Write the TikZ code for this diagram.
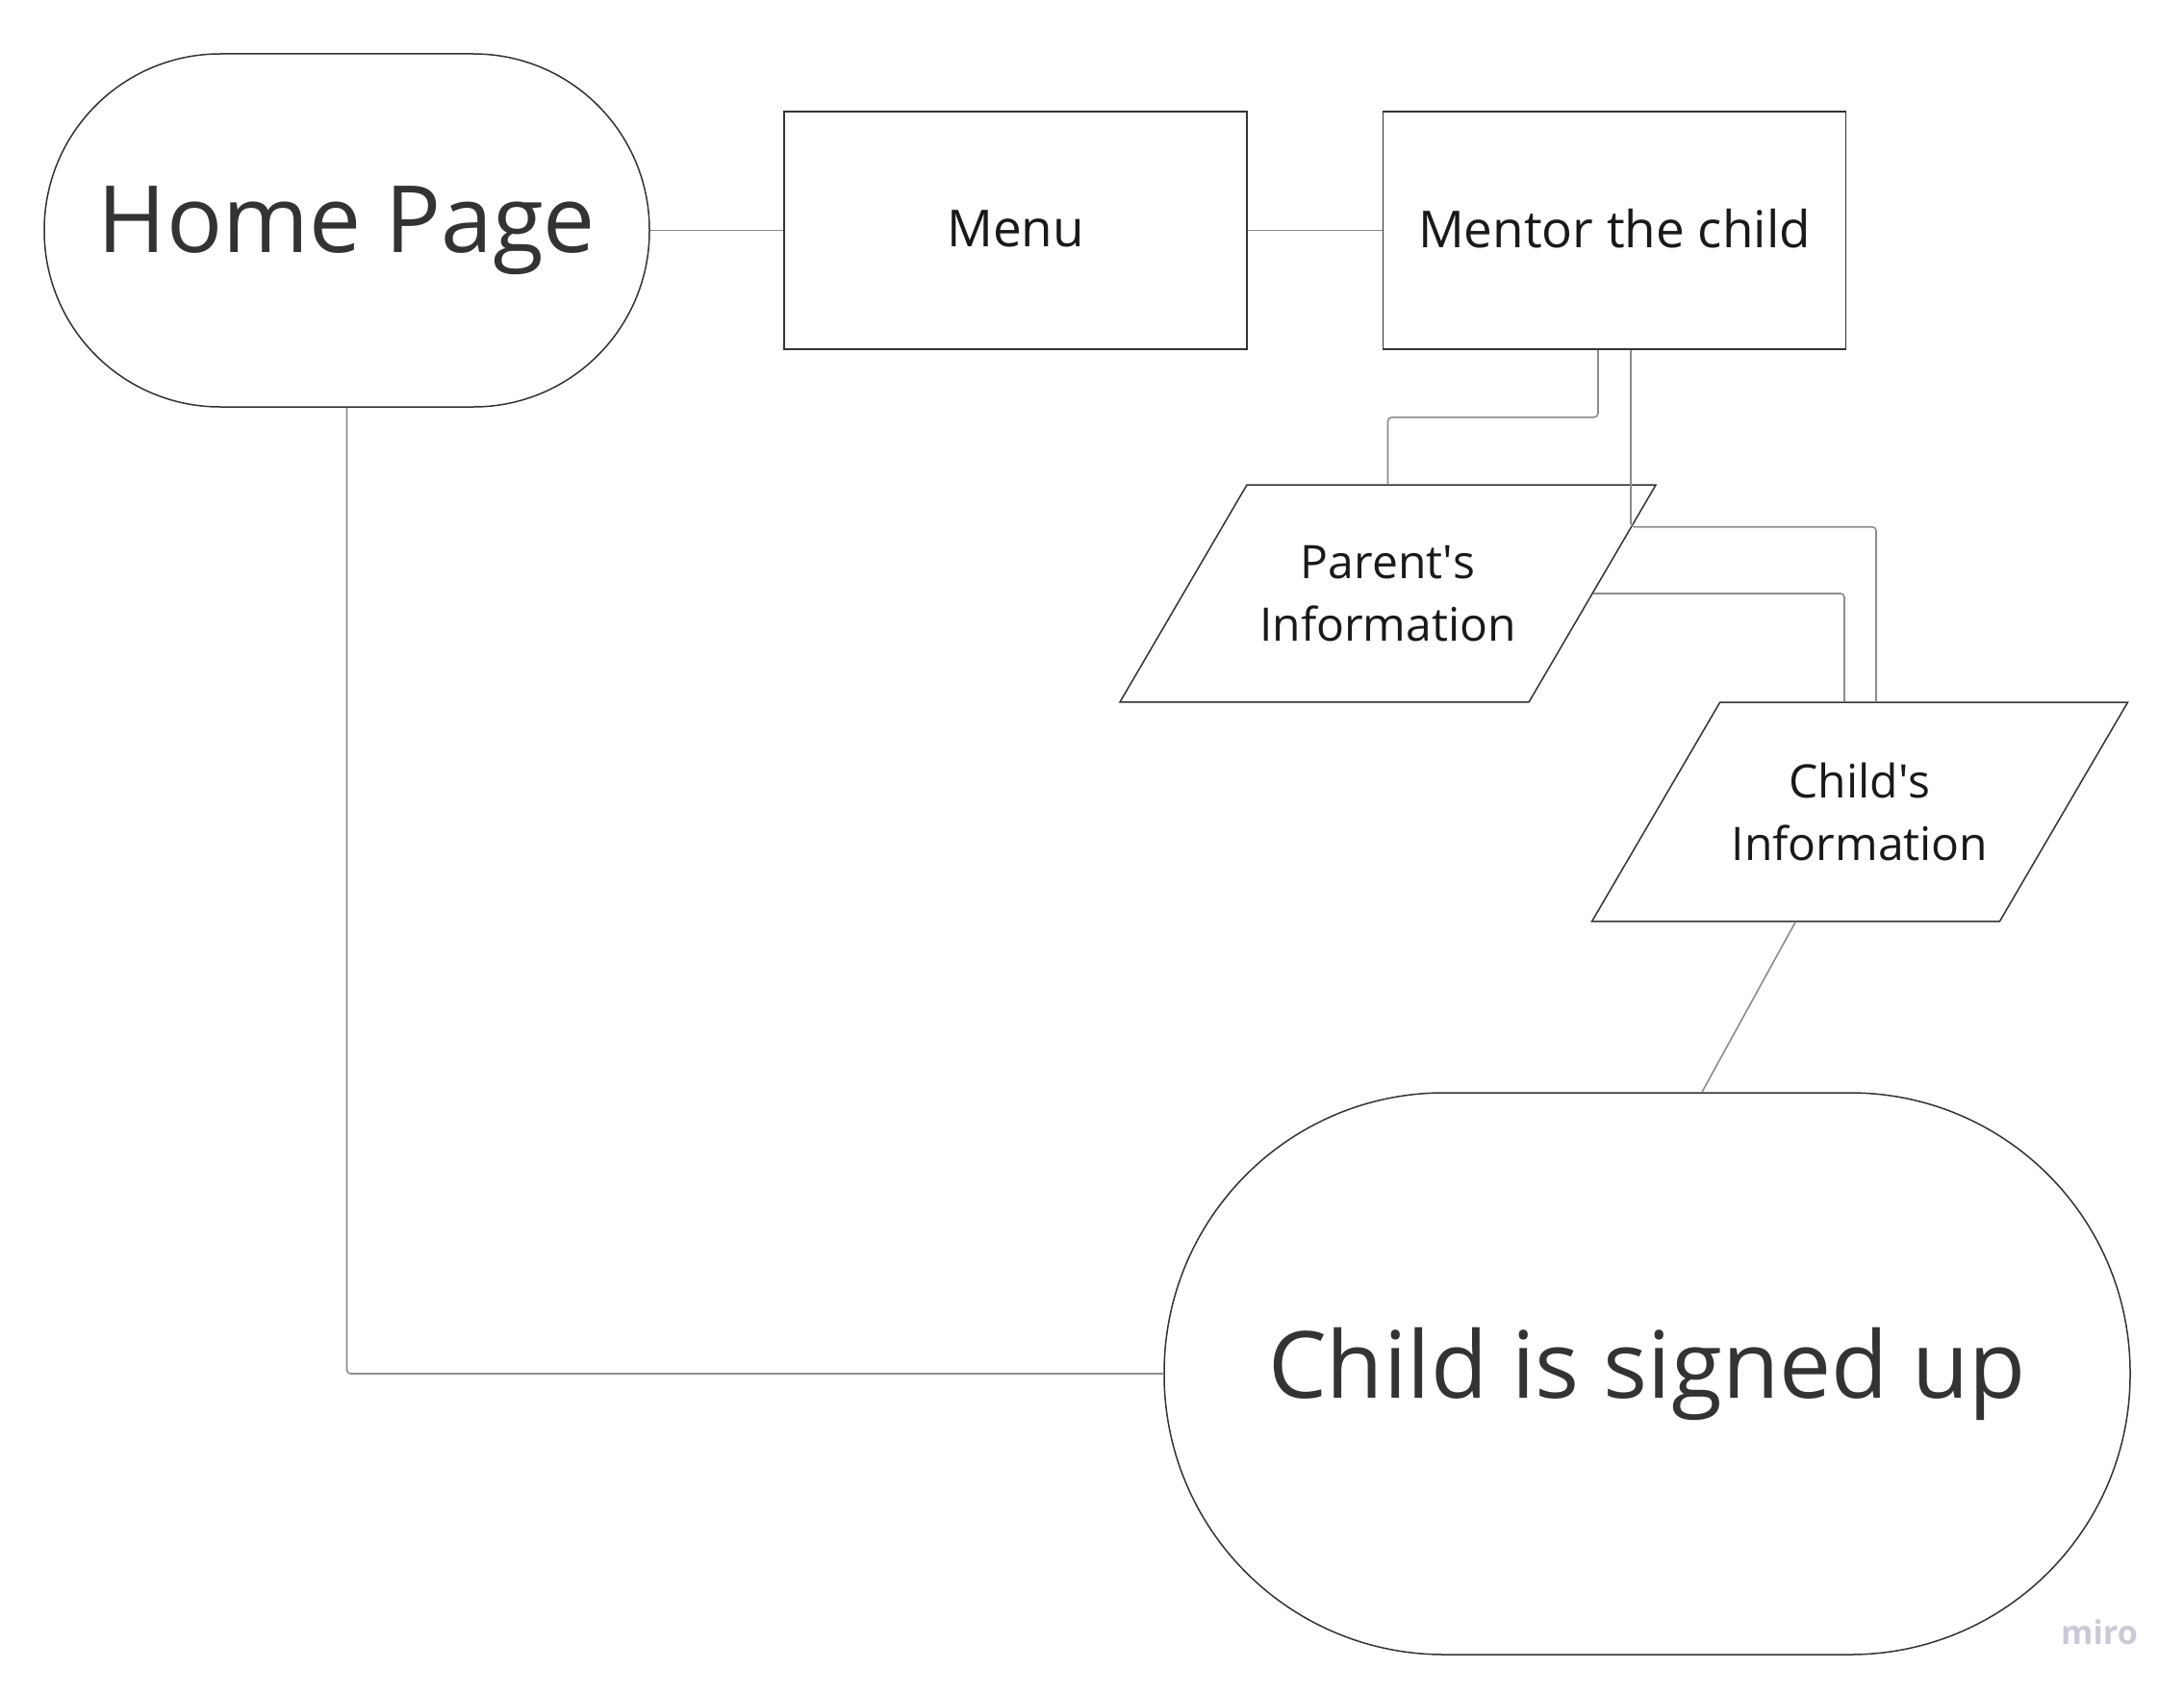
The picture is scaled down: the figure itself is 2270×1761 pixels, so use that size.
\documentclass[tikz,border=0pt]{standalone}
\usepackage{fontspec}
\setmainfont{Open Sans}
\usepackage{tikz}
\usetikzlibrary{shapes.geometric}
\definecolor{inkgray}{HTML}{333333}
\definecolor{linegray}{HTML}{8C8C8C}
\definecolor{mirogray}{HTML}{CACAD6}
\tikzset{
  terminal/.style={draw=inkgray, line width=1.5pt, rectangle, rounded corners=#1,
    text=inkgray, font=\fontsize{96.5}{110}\selectfont},
  menubox/.style={draw=inkgray, line width=1.5pt, rectangle, minimum width=481pt,
    minimum height=247pt, text=black!90, font=\fontsize{53}{65}\selectfont},
  infobox/.style={draw=inkgray, line width=1.5pt, trapezium, trapezium left angle=59.7,
    trapezium right angle=120.3, trapezium stretches body=true, minimum width=557pt,
    inner ysep=63pt, align=center, text=black!90, font=\fontsize{48}{65}\selectfont},
  conn/.style={draw=linegray, line width=1.6pt, rounded corners=4pt}
}

\begin{document}
\begin{tikzpicture}[x=1pt,y=-1pt]
  % Page size
  \useasboundingbox (0,0) rectangle (2270,1761);

  % Top row
  \node[terminal=183pt, minimum width=629pt, minimum height=367pt] (home) at (360.5,239.5) {Home Page};
  \node[menubox] (menu) at (1055.5,239.5) {\raisebox{4pt}{Menu}};
  \node[menubox] (mentor) at (1678,239.5) {\raisebox{4pt}{Mentor the child}};

  % Information inputs
  \node[infobox] (parent) at (1442.5,617) {Parent\textquotesingle s\\Information};
  \node[infobox] (child) at (1933,844) {Child\textquotesingle s\\Information};

  % End
  \node[terminal=291pt, minimum width=1004pt, minimum height=584pt] (done) at (1712,1428) {Child is signed up};

  % Connectors
  \draw[conn] (home.east) -- (menu.west);
  \draw[conn] (menu.east) -- (mentor.west);
  \draw[conn] ([xshift=-17pt]mentor.south) -- ++(0,-70pt) -| (parent.north);
  \draw[conn] ([xshift=17pt]mentor.south) -- ++(0,-184pt) -| ([xshift=17pt]child.north);
  \draw[conn] (parent.east) -| ([xshift=-16pt]child.north);
  \draw[conn] (child.bottom side) -- ([xshift=57pt]done.north);
  \draw[conn] (home.south) |- (done.west);

  \node[text=mirogray, font=\fontsize{34}{40}\selectfont\bfseries] (miro) at (2182,1697) {miro};
\end{tikzpicture}
\end{document}
